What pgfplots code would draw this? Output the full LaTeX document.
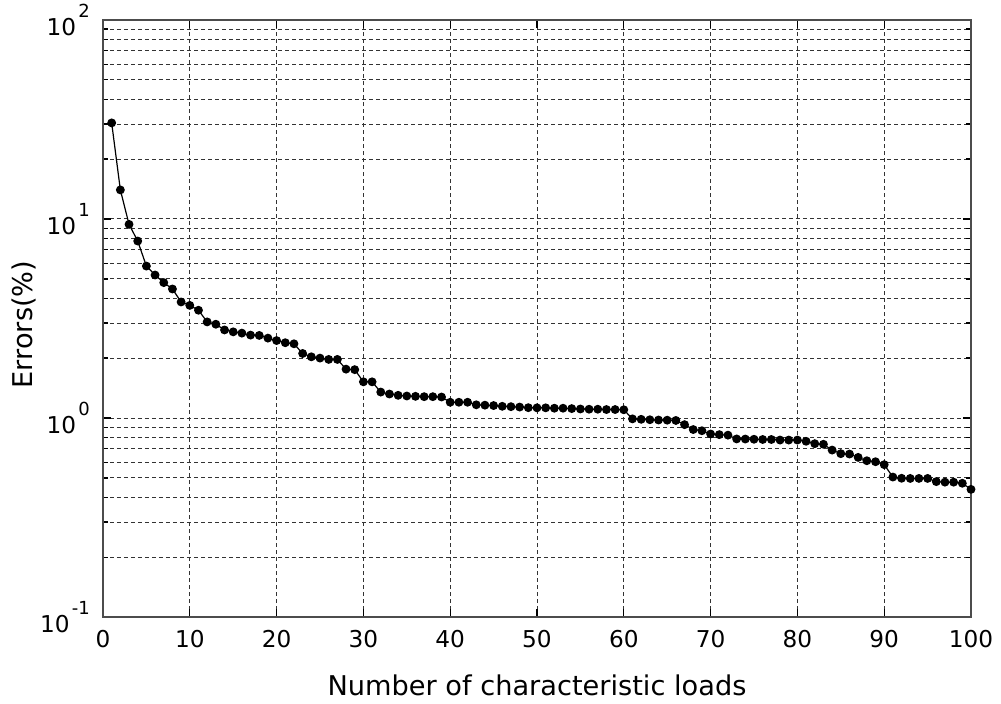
\documentclass[border=0pt]{standalone}
\usepackage{fontspec}
\setmainfont{DejaVu Sans}
\usepackage{pgfplots}
\pgfplotsset{compat=1.18}

% error of the approximation versus the number of characteristic loads
\pgfplotstableread{
n err
1 30.4
2 14.0
3 9.4
4 7.75
5 5.8
6 5.23
7 4.79
8 4.45
9 3.83
10 3.68
11 3.48
12 3.04
13 2.96
14 2.77
15 2.71
16 2.67
17 2.61
18 2.60
19 2.52
20 2.45
21 2.39
22 2.36
23 2.11
24 2.03
25 2.00
26 1.97
27 1.97
28 1.76
29 1.75
30 1.52
31 1.52
32 1.35
33 1.32
34 1.30
35 1.29
36 1.285
37 1.28
38 1.28
39 1.275
40 1.20
41 1.20
42 1.20
43 1.165
44 1.16
45 1.155
46 1.145
47 1.14
48 1.135
49 1.127
50 1.125
51 1.125
52 1.12
53 1.12
54 1.115
55 1.11
56 1.107
57 1.107
58 1.103
59 1.103
60 1.10
61 0.99
62 0.985
63 0.98
64 0.977
65 0.975
66 0.972
67 0.926
68 0.875
69 0.863
70 0.831
71 0.825
72 0.82
73 0.785
74 0.784
75 0.782
76 0.78
77 0.78
78 0.775
79 0.775
80 0.775
81 0.764
82 0.743
83 0.738
84 0.69
85 0.662
86 0.659
87 0.634
88 0.61
89 0.603
90 0.583
91 0.505
92 0.498
93 0.497
94 0.497
95 0.497
96 0.479
97 0.476
98 0.476
99 0.47
100 0.438
}\errtable

\newcommand{\decade}[1]{10\kern1.2pt\raisebox{0.75em}{\fontsize{9}{9}\selectfont #1}}

\begin{document}
\begin{tikzpicture}
\path[use as bounding box] (-51.5pt,-43pt) rectangle (449pt,308.5pt);
\begin{axis}[
  at={(0,0)}, anchor=south west,
  scale only axis,
  width=434pt, height=298.5pt,
  ymode=log,
  xmin=0, xmax=100,
  ymin=0.1, ymax=100,
  xtick={0,10,...,100},
  ytick={0.1,1,10,100},
  yticklabels={\decade{-1},\decade{0},\decade{1},\decade{2}},
  /pgf/number format/assume math mode=true,
  tick label style={font=\fontsize{11.6}{11.6}\selectfont},
  yticklabel style={xshift=-3pt},
  xticklabel style={yshift=-3pt},
  label style={font=\fontsize{13.6}{13.6}\selectfont},
  xlabel={Number of characteristic loads},
  ylabel={Errors(\%)},
  xlabel style={at={(axis description cs:0.5,0)}, anchor=base, yshift=-39pt},
  ylabel style={at={(axis description cs:0,0.49)}, anchor=base, yshift=35pt},
  xmajorgrids, ymajorgrids, yminorgrids,
  grid style={black!80, line width=0.5pt, dash pattern=on 2pt off 1.5pt},
  major grid style={black!80, line width=0.5pt, dash pattern=on 2pt off 1.5pt},
  minor grid style={black!80, line width=0.5pt, dash pattern=on 2pt off 1.5pt},
  tick align=inside,
  major tick length=4pt, minor tick length=2.5pt,
  tick style={black, line width=0.6pt},
  axis line style={black!70, line width=0.7pt},
]
\addplot[black, line width=0.6pt, mark=*, mark size=1.9pt] table[x=n, y=err] {\errtable};
\end{axis}
\end{tikzpicture}
\end{document}
